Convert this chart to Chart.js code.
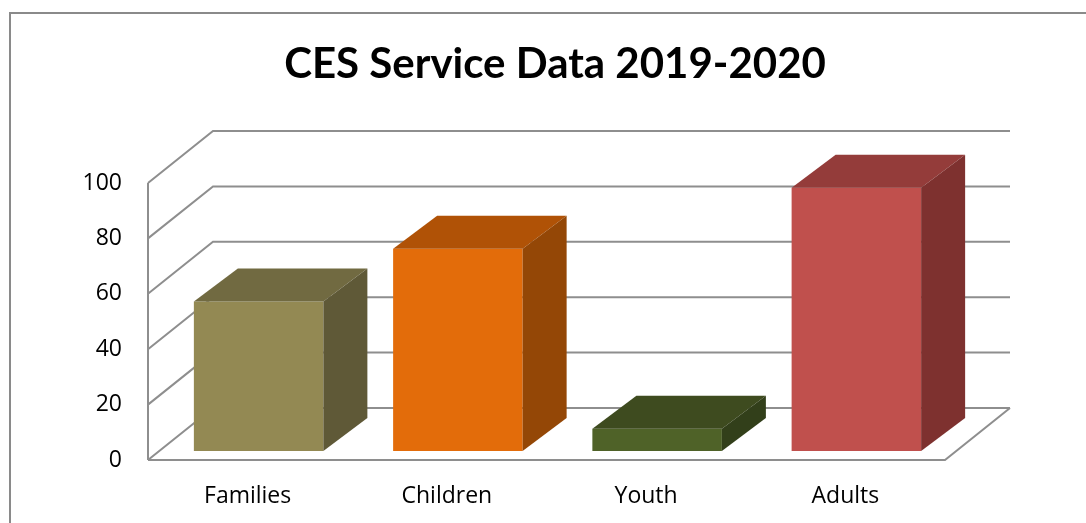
<!DOCTYPE html>
<html>
<head>
<meta charset="utf-8">
<script src="https://cdn.jsdelivr.net/npm/chart.js@4"></script>
<style>
  html, body { margin: 0; padding: 0; background: #fff; }
  #wrap { width: 1086px; height: 523px; position: relative; }
</style>
</head>
<body>
<div id="wrap"><canvas id="chart"></canvas></div>
<script>
// data
const categories = ['Families', 'Children', 'Youth', 'Adults'];
const values = [54, 73, 8, 95];
const yTicks = [0, 20, 40, 60, 80, 100];
const chartTitle = 'CES Service Data 2019-2020';

// colours for each face of the 3d bars
const frontColors = ['#938953', '#E36C0A', '#4F6228', '#C0504D'];
const topColors = ['#716A41', '#B05206', '#3E4B1F', '#943C3A'];
const sideColors = ['#5F5937', '#944706', '#323F1A', '#7E312F'];

// depth of the floor, offset of the bar front and the bar depth
const DEPTH = { x: 65, y: -52 };
const BAR_SHIFT = { x: 11, y: -9 };
const BAR_DEPTH = { x: 44, y: -33 };
const GRID = '#8e8e8e';

const threeD = {
  id: 'threeD',
  beforeDraw(chart) {
    const ctx = chart.ctx;
    ctx.save();
    ctx.fillStyle = '#fff';
    ctx.fillRect(0, 0, chart.width, chart.height);
    ctx.strokeStyle = '#8a8a8a';
    ctx.lineWidth = 2;
    ctx.strokeRect(10, 13, 1300, 700);
    // title
    ctx.fillStyle = '#000';
    ctx.font = 'bold 42px Lato';
    ctx.textAlign = 'center';
    ctx.textBaseline = 'middle';
    ctx.fillText(chartTitle, 555, 64);
    ctx.restore();
  },
  beforeDatasetsDraw(chart) {
    const ctx = chart.ctx;
    const { left, right } = chart.chartArea;
    const y = chart.scales.y;
    const y0 = y.getPixelForValue(0);
    ctx.save();
    ctx.strokeStyle = GRID;
    ctx.lineWidth = 2;
    // grid lines on side wall and back wall
    yTicks.forEach(v => {
      const py = y.getPixelForValue(v);
      ctx.beginPath();
      ctx.moveTo(left, py);
      ctx.lineTo(left + DEPTH.x, py + DEPTH.y);
      ctx.lineTo(right + DEPTH.x, py + DEPTH.y);
      ctx.stroke();
    });
    // front axis
    ctx.beginPath();
    ctx.moveTo(left, y.getPixelForValue(100));
    ctx.lineTo(left, y0);
    ctx.stroke();
    // floor
    ctx.beginPath();
    ctx.moveTo(left, y0);
    ctx.lineTo(right, y0);
    ctx.lineTo(right + DEPTH.x, y0 + DEPTH.y);
    ctx.stroke();
    ctx.restore();

    ctx.save();
    ctx.translate(BAR_SHIFT.x, BAR_SHIFT.y);
  },
  afterDatasetsDraw(chart) {
    const ctx = chart.ctx;
    const meta = chart.getDatasetMeta(0);
    meta.data.forEach((bar, i) => {
      const p = bar.getProps(['x', 'y', 'base', 'width'], true);
      const x0 = p.x - p.width / 2;
      const x1 = p.x + p.width / 2;
      // top face
      ctx.fillStyle = topColors[i];
      ctx.beginPath();
      ctx.moveTo(x0, p.y);
      ctx.lineTo(x1, p.y);
      ctx.lineTo(x1 + BAR_DEPTH.x, p.y + BAR_DEPTH.y);
      ctx.lineTo(x0 + BAR_DEPTH.x, p.y + BAR_DEPTH.y);
      ctx.closePath();
      ctx.fill();
      // side face
      ctx.fillStyle = sideColors[i];
      ctx.beginPath();
      ctx.moveTo(x1, p.y);
      ctx.lineTo(x1 + BAR_DEPTH.x, p.y + BAR_DEPTH.y);
      ctx.lineTo(x1 + BAR_DEPTH.x, p.base + BAR_DEPTH.y);
      ctx.lineTo(x1, p.base);
      ctx.closePath();
      ctx.fill();
    });
    ctx.restore();
  }
};

new Chart(document.getElementById('chart'), {
  type: 'bar',
  data: {
    labels: categories,
    datasets: [{
      data: values,
      backgroundColor: frontColors,
      borderWidth: 0,
      barPercentage: 0.65,
      categoryPercentage: 1
    }]
  },
  options: {
    responsive: true,
    maintainAspectRatio: false,
    animation: false,
    layout: { padding: { top: 183, right: 141, bottom: 0, left: 0 } },
    plugins: {
      legend: { display: false },
      title: { display: false },
      tooltip: { enabled: false }
    },
    scales: {
      x: {
        grid: { display: false, drawTicks: false },
        border: { display: false },
        ticks: {
          color: '#000',
          padding: 23,
          font: { family: 'Open Sans', size: 23 }
        },
        afterFit(scale) { scale.height = 63; }
      },
      y: {
        min: 0,
        max: 100,
        grid: { display: false, drawTicks: false },
        border: { display: false },
        ticks: {
          stepSize: 20,
          color: '#000',
          padding: 26,
          font: { family: 'Open Sans', size: 23 }
        },
        afterFit(scale) { scale.width = 148; }
      }
    }
  },
  plugins: [threeD]
});
</script>
</body>
</html>
